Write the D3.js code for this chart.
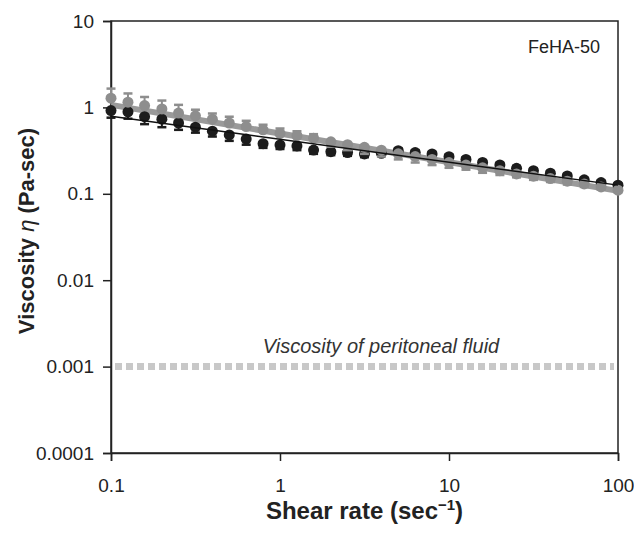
<!DOCTYPE html>
<html><head><meta charset="utf-8">
<script src="https://cdn.jsdelivr.net/npm/d3@7"></script>
<style>body{margin:0;background:#fff}svg{display:block}</style>
</head><body>
<svg id="c" width="634" height="533"></svg>
<script>
// ---- data ----
const shearRate = [0.1,0.126,0.158,0.2,0.251,0.316,0.398,0.501,0.631,0.794,
  1,1.26,1.58,2,2.51,3.16,3.98,5.01,6.31,7.94,
  10,12.6,15.8,20,25.1,31.6,39.8,50.1,63.1,79.4,100];
const blackVisc = [0.92,0.89,0.78,0.73,0.66,0.59,0.53,0.48,0.43,0.38,
  0.367,0.358,0.321,0.307,0.30,0.289,0.294,0.316,0.30,0.289,
  0.269,0.25,0.231,0.216,0.197,0.185,0.173,0.161,0.145,0.135,0.126];
const blackErrEnd = [0.76,0.74,0.64,0.59,0.55,0.51,0.46,0.41,0.37,0.34,
  0.33,0.32,0.29,0.28,0.275,0.265,0.31,0.335,0.32,0.305,
  0.285,0.265,0.245,0.228,0.21,0.196,0.183,0.17,0.153,0.142,0.132];
const grayVisc = [1.28,1.15,1.05,0.96,0.86,0.80,0.73,0.66,0.60,0.55,
  0.50,0.47,0.44,0.40,0.37,0.345,0.32,0.29,0.27,0.25,
  0.23,0.215,0.20,0.185,0.17,0.16,0.15,0.14,0.13,0.12,0.11];
const grayErrEnd = [1.65,1.45,1.32,1.2,1.07,0.94,0.85,0.78,0.70,0.63,
  0.57,0.53,0.49,0.35,0.32,0.29,0.27,0.25,0.23,0.215,
  0.20,0.19,0.175,0.165,0.155,0.145,0.137,0.128,0.12,0.112,0.104];
const blackFit = [[0.1,0.79],[100,0.126]];
const grayFit = [[0.1,1.07],[100,0.108]];
const peritonealLevel = 0.001;
const xTicks = [0.1,1,10,100];
const xTickLabels = ["0.1","1","10","100"];
const yTicks = [10,1,0.1,0.01,0.001,0.0001];
const yTickLabels = ["10","1","0.1","0.01","0.001","0.0001"];
const sampleLabel = "FeHA-50";
const refLabel = "Viscosity of peritoneal fluid";

// ---- layout ----
const L = 111, R = 618, T = 21, B = 453;
const svg = d3.select("#c");
const x = d3.scaleLog().domain([0.1,100]).range([L,R]);
const y = d3.scaleLog().domain([0.0001,10]).range([B,T]);
const font = "'Liberation Sans', Arial, sans-serif";

// frame
svg.append("rect").attr("x",L).attr("y",T).attr("width",R-L).attr("height",B-T)
  .attr("fill","none").attr("stroke","#222").attr("stroke-width",1.5);

// axes
const xAxis = d3.axisBottom(x).tickValues(xTicks).tickSize(8).tickPadding(18)
  .tickFormat((d,i)=>xTickLabels[i]);
const gx = svg.append("g").attr("transform",`translate(0,${B})`).call(xAxis);
const yAxis = d3.axisLeft(y).tickValues(yTicks).tickSize(8).tickPadding(9)
  .tickFormat((d,i)=>yTickLabels[i]);
const gy = svg.append("g").attr("transform",`translate(${L},0)`).call(yAxis);
[gx,gy].forEach(g=>{
  g.select(".domain").attr("stroke","#222").attr("stroke-width",1.5);
  g.selectAll(".tick line").attr("stroke","#222").attr("stroke-width",1.5);
  g.selectAll(".tick text").attr("font-family",font).attr("font-size",19).attr("fill","#222");
});

// peritoneal fluid reference line
svg.append("line").attr("x1",x(0.1)+4).attr("x2",x(100)-4)
  .attr("y1",y(peritonealLevel)).attr("y2",y(peritonealLevel))
  .attr("stroke","#c8c8c8").attr("stroke-width",7).attr("stroke-dasharray","7,4");
svg.append("text").attr("x",381).attr("y",y(peritonealLevel)-14)
  .attr("text-anchor","middle").attr("font-family",font).attr("font-size",20)
  .attr("font-style","italic").attr("fill","#333").text(refLabel);

// sample label
svg.append("text").attr("x",R-18).attr("y",T+32).attr("text-anchor","end")
  .attr("font-family",font).attr("font-size",18).attr("fill","#222").text(sampleLabel);

const line = d3.line().x(d=>x(d[0])).y(d=>y(d[1]));
const capW = 4.5;

function series(vals, ends, color, g){
  const data = shearRate.map((s,i)=>({s, v:vals[i], e:ends[i]}));
  g.selectAll("line.eb").data(data).join("line").attr("class","eb")
    .attr("x1",d=>x(d.s)).attr("x2",d=>x(d.s)).attr("y1",d=>y(d.v)).attr("y2",d=>y(d.e))
    .attr("stroke",color).attr("stroke-width",2);
  g.selectAll("line.cap").data(data).join("line").attr("class","cap")
    .attr("x1",d=>x(d.s)-capW).attr("x2",d=>x(d.s)+capW).attr("y1",d=>y(d.e)).attr("y2",d=>y(d.e))
    .attr("stroke",color).attr("stroke-width",2.5);
  g.selectAll("circle").data(data).join("circle")
    .attr("cx",d=>x(d.s)).attr("cy",d=>y(d.v)).attr("r",5.5).attr("fill",color);
}

svg.append("path").datum(grayFit).attr("d",line).attr("stroke","#9a9a9a")
  .attr("stroke-width",6).attr("fill","none");
series(blackVisc, blackErrEnd, "#1c1c1c", svg.append("g"));
series(grayVisc, grayErrEnd, "#8e8e8e", svg.append("g"));
svg.append("path").datum(blackFit).attr("d",line).attr("stroke","#111")
  .attr("stroke-width",1.5).attr("fill","none");

// axis titles
const xt = svg.append("text").attr("x",(L+R)/2).attr("y",519).attr("text-anchor","middle")
  .attr("font-family",font).attr("font-size",24).attr("font-weight","bold").attr("fill","#222");
xt.append("tspan").text("Shear rate (sec");
xt.append("tspan").attr("dy",-9).attr("font-size",15).text("\u22121");
xt.append("tspan").attr("dy",9).text(")");

const yt = svg.append("text").attr("transform",`translate(34,${(T+B)/2-6}) rotate(-90)`)
  .attr("text-anchor","middle").attr("font-family",font).attr("font-size",22)
  .attr("font-weight","bold").attr("fill","#222");
yt.append("tspan").text("Viscosity ");
yt.append("tspan").attr("font-style","italic").attr("font-weight","normal").text("\u03b7");
yt.append("tspan").text(" (Pa-sec)");
</script>
</body></html>
